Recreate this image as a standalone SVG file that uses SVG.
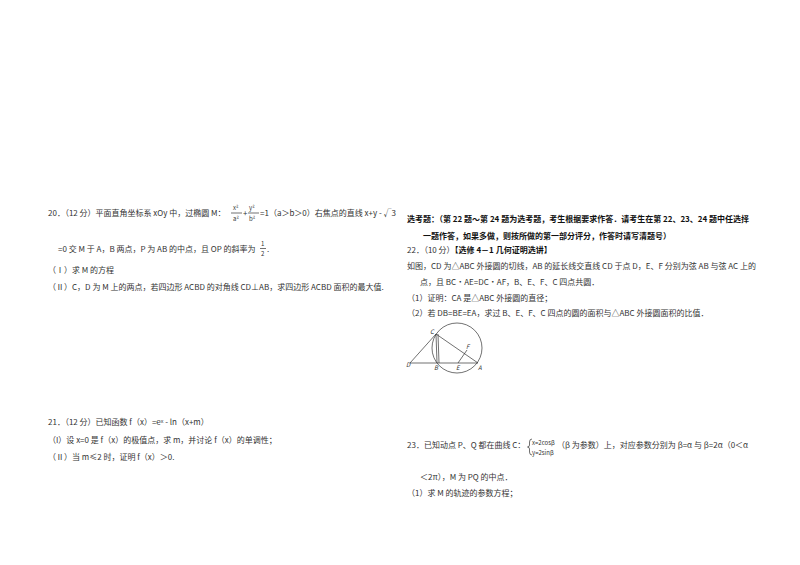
<svg xmlns="http://www.w3.org/2000/svg" width="800" height="565" viewBox="0 0 800 565">
<style>
text{font-family:"Noto Sans CJK SC","Liberation Sans",sans-serif;font-size:8px;fill:#333}
.b{font-weight:bold;fill:#111}
.s{font-size:6px}
line,circle,path{stroke:#333;stroke-width:0.7;fill:none}
</style>
<rect width="800" height="565" fill="#fff"/>
<g id="q20">
<text x="48" y="216">20．（12 分）平面直角坐标系 xOy 中，过椭圆 M：</text>
<text x="233" y="210" class="s">x²</text><line x1="231" y1="213" x2="242" y2="213"/><text x="233" y="221" class="s">a²</text>
<text x="243" y="216">+</text>
<text x="249" y="210" class="s">y²</text><line x1="248" y1="213" x2="259" y2="213"/><text x="249" y="221" class="s">b²</text>
<text x="260" y="216">=1（a＞b＞0）右焦点的直线 x+y - √3</text>
<text x="58" y="252">=0 交 M 于 A，B 两点，P 为 AB 的中点，且 OP 的斜率为</text>
<text x="261" y="246" class="s">1</text><line x1="260" y1="248.5" x2="266" y2="248.5"/><text x="261" y="256" class="s">2</text>
<text x="267" y="252">.</text>
<text x="48" y="273">（Ⅰ）求 M 的方程</text>
<text x="48" y="290">（Ⅱ）C，D 为 M 上的两点，若四边形 ACBD 的对角线 CD⊥AB，求四边形 ACBD 面积的最大值.</text>
</g>
<g id="q21">
<text x="48" y="425">21．（12 分）已知函数 f（x）=eˣ - ln（x+m）</text>
<text x="48" y="443">（I）设 x=0 是 f（x）的极值点，求 m，并讨论 f（x）的单调性；</text>
<text x="48" y="460">（Ⅱ）当 m≤2 时，证明 f（x）＞0.</text>
</g>
<g id="q22">
<text x="407" y="222" class="b">选考题：（第 22 题～第 24 题为选考题，考生根据要求作答．请考生在第 22、23、24 题中任选择</text>
<text x="423" y="239" class="b">一题作答，如果多做，则按所做的第一部分评分，作答时请写清题号）</text>
<text x="407" y="253">22．（10 分）<tspan class="b">【选修 4－1 几何证明选讲】</tspan></text>
<text x="407" y="269">如图，CD 为△ABC 外接圆的切线，AB 的延长线交直线 CD 于点 D，E、F 分别为弦 AB 与弦 AC 上的</text>
<text x="420" y="285">点，且 BC•AE=DC•AF，B、E、F、C 四点共圆．</text>
<text x="407" y="301">（1）证明：CA 是△ABC 外接圆的直径；</text>
<text x="407" y="316">（2）若 DB=BE=EA，求过 B、E、F、C 四点的圆的面积与△ABC 外接圆面积的比值．</text>
</g>
<g id="figure">
<circle cx="457" cy="348" r="25"/>
<line x1="410" y1="363" x2="478" y2="363"/>
<line x1="410" y1="363" x2="436" y2="334"/>
<line x1="436" y1="334" x2="437" y2="363"/>
<line x1="438" y1="334" x2="439" y2="363"/>
<line x1="436" y1="334" x2="478" y2="363"/>
<line x1="458" y1="363" x2="467" y2="350"/>
<text x="430" y="334" style="font-style:italic;font-size:6px">C</text>
<text x="406" y="367" style="font-style:italic;font-size:6px">D</text>
<text x="434" y="370" style="font-style:italic;font-size:6px">B</text>
<text x="456" y="370" style="font-style:italic;font-size:6px">E</text>
<text x="478" y="370" style="font-style:italic;font-size:6px">A</text>
<text x="466" y="349" style="font-style:italic;font-size:6px">F</text>
</g>
<g id="q23">
<text x="407" y="448">23．已知动点 P、Q 都在曲线 C：</text>
<path d="M532,439 q-2.5,0 -2.5,3 v3 q0,2 -2,2 q2,0 2,2 v3 q0,3 2.5,3"/>
<text x="532" y="445" class="s">x=2cosβ</text>
<text x="532" y="455" class="s">y=2sinβ</text>
<text x="557" y="448">（β 为参数）上，对应参数分别为 β=α 与 β=2α（0＜α</text>
<text x="420" y="480">＜2π），M 为 PQ 的中点．</text>
<text x="407" y="496">（1）求 M 的轨迹的参数方程；</text>
</g>
</svg>
